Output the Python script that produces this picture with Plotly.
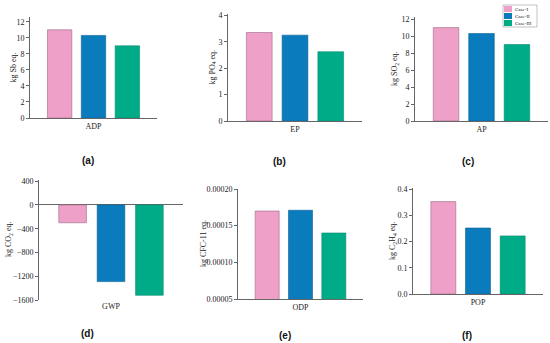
import plotly.graph_objects as go

W, H = 550, 343

cases = ["Case-I", "Case-II", "Case-III"]
colors = ["#EFA0C8", "#0A7CBE", "#00AC88"]
line_colors = ["#9a6a84", "#0a5f90", "#008a6e"]

categories = ["ADP", "EP", "AP", "GWP", "ODP", "POP"]
adp = [11.0, 10.3, 9.0]
ep = [3.35, 3.25, 2.62]
ap = [11.0, 10.3, 9.0]
gwp = [-300, -1290, -1520]
odp = [0.000170, 0.000171, 0.000140]
pop = [0.353, 0.252, 0.222]
series = [adp, ep, ap, gwp, odp, pop]

y_titles = ["kg Sb eq.", "kg PO<sub>4</sub> eq.", "kg SO<sub>2</sub> eq.",
            "kg CO<sub>2</sub> eq.", "kg CFC-11 eq.", "kg C<sub>2</sub>H<sub>4</sub> eq."]
panel_labels = ["(a)", "(b)", "(c)", "(d)", "(e)", "(f)"]

# pixel boxes: x0, x1, ytop, ybottom
boxes = [
    (30, 157, 17, 118),
    (228, 362, 14, 121),
    (415, 548, 17, 121),
    (39, 183, 180, 300),
    (238, 363, 189, 299),
    (413, 543, 188, 294),
]
y_ranges = [[0, 12.6], [0, 4.05], [0, 12.25], [-1600, 420], [0.00005, 0.0002], [0, 0.405]]
dticks = [2, 1, 2, 400, 0.00005, 0.1]
tickformats = ["d", "d", "d", "d", ".5f", ".1f"]
title_x = [13, 212, 395, 9, 203, 393]
label_pos = [(88, 160), (280, 161), (468, 161), (87, 333), (285, 335), (467, 335)]

fig = go.Figure()
font_fam = "Liberation Serif"
axcol = "#666666"
txtcol = "#222222"

annotations = []
for i in range(6):
    n = "" if i == 0 else str(i + 1)
    for j in range(3):
        fig.add_trace(go.Bar(
            x=[categories[i]], y=[series[i][j]], name=cases[j],
            marker=dict(color=colors[j], line=dict(color=line_colors[j], width=0.6)),
            xaxis="x" + n, yaxis="y" + n, showlegend=False,
        ))
    x0, x1, yt, yb = boxes[i]
    fig.layout["xaxis" + n] = dict(
        domain=[x0 / W, x1 / W], anchor="y" + n, type="category",
        showline=(i != 3), linecolor=axcol, linewidth=1, ticks="",
        showgrid=False, zeroline=False, automargin=False,
        tickfont=dict(family=font_fam, size=8, color=txtcol),
    )
    fig.layout["yaxis" + n] = dict(
        domain=[1 - yb / H, 1 - yt / H], anchor="x" + n, range=y_ranges[i],
        dtick=dticks[i], tick0=y_ranges[i][0] if i == 4 else 0,
        tickformat=tickformats[i], automargin=False,
        showline=True, linecolor=axcol, linewidth=1, ticks="outside",
        ticklen=3, tickcolor=axcol, tickwidth=1, showgrid=False,
        zeroline=(i == 3), zerolinecolor=axcol, zerolinewidth=1,
        tickfont=dict(family=font_fam, size=8, color=txtcol),
    )
    annotations.append(dict(
        x=title_x[i] / W, y=1 - (yt + yb) / 2 / H, xref="paper", yref="paper",
        text=y_titles[i], textangle=-90, showarrow=False,
        font=dict(family=font_fam, size=8, color=txtcol),
        xanchor="center", yanchor="middle",
    ))
    lx, ly = label_pos[i]
    annotations.append(dict(
        x=lx / W, y=1 - ly / H, xref="paper", yref="paper",
        text="<b>" + panel_labels[i] + "</b>", showarrow=False,
        font=dict(family="Liberation Sans", size=10, color="#111111"),
        xanchor="center", yanchor="middle",
    ))

# manual legend
shapes = [dict(type="rect", xref="paper", yref="paper",
               x0=503 / W, x1=537 / W, y0=1 - 27 / H, y1=1 - 5 / H,
               line=dict(color="#999999", width=0.6), fillcolor="white")]
for j in range(3):
    ry0 = 6 + j * 7
    shapes.append(dict(type="rect", xref="paper", yref="paper",
                       x0=504 / W, x1=512 / W, y0=1 - (ry0 + 6) / H, y1=1 - ry0 / H,
                       line=dict(width=0), fillcolor=colors[j]))
    annotations.append(dict(
        x=513 / W, y=1 - (ry0 + 3) / H, xref="paper", yref="paper",
        text=cases[j], showarrow=False, xanchor="left", yanchor="middle",
        font=dict(family=font_fam, size=5, color=txtcol),
    ))

fig.update_layout(
    template="none",
    width=W, height=H, margin=dict(l=0, r=0, t=0, b=0, pad=0),
    paper_bgcolor="white", plot_bgcolor="white",
    barmode="group", bargap=0.2, bargroupgap=0.28,
    annotations=annotations, shapes=shapes,
)

fig.write_html(
    "out.html",
    config={"displayModeBar": False},
    post_script="document.body.style.margin='0';document.body.style.overflow='hidden';",
)
